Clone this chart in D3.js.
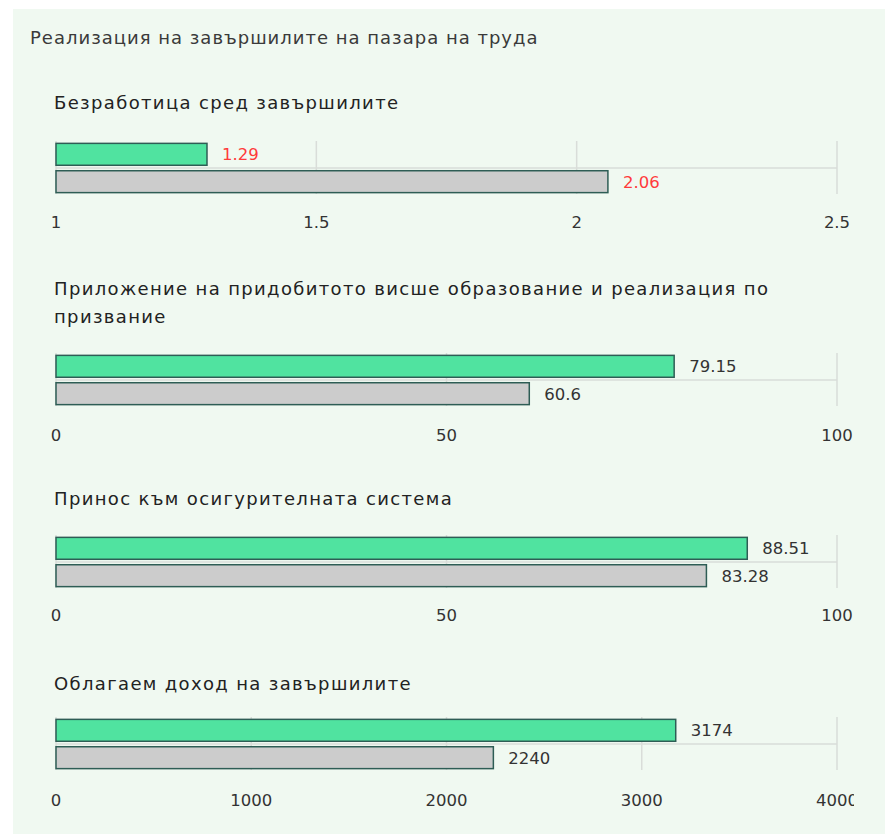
<!DOCTYPE html>
<html>
<head>
<meta charset="utf-8">
<script src="https://cdn.jsdelivr.net/npm/d3@7"></script>
<style>
  body { margin: 0; background: #fff; }
  svg { display: block; }
  text { font-family: "DejaVu Sans", sans-serif; }
</style>
</head>
<body>
<svg id="chart" width="885" height="834"></svg>
<script>
(function () {
    const W = 885, H = 834;
    const svg = d3.select("#chart");

    const mainTitle = "Реализация на завършилите на пазара на труда";
    const panelTitles = [
        ["Безработица сред завършилите"],
        ["Приложение на придобитото висше образование и реализация по", "призвание"],
        ["Принос към осигурителната система"],
        ["Облагаем доход на завършилите"]
    ];
    const seriesA = [1.29, 79.15, 88.51, 3174];   // green
    const seriesB = [2.06, 60.6, 83.28, 2240];    // grey
    const domains = [[1, 2.5], [0, 100], [0, 100], [0, 4000]];
    const tickVals = [
        [1, 1.5, 2, 2.5],
        [0, 50, 100],
        [0, 50, 100],
        [0, 1000, 2000, 3000, 4000]
    ];
    const labelColors = ["#ff3b3b", "#333", "#333", "#333"];

    // layout per panel: title baseline y, band top y, tick label y
    const layout = [
        { title: 109, band: 142, tick: 228 },
        { title: 295, band: 354, tick: 441 },
        { title: 505, band: 536, tick: 621 },
        { title: 690, band: 718, tick: 806 }
    ];

    const GREEN = "#50e3a0", GREY = "#cccccc", STROKE = "#2e5d55", GRID = "#d9ddd9";

    svg.append("rect").attr("x", 13).attr("y", 9)
        .attr("width", W - 13).attr("height", H - 9)
        .attr("fill", "#f0f9f1");

    // the original panel cuts off at its right edge
    svg.append("defs").append("clipPath").attr("id", "clip")
        .append("rect").attr("x", 0).attr("y", 0).attr("width", 854).attr("height", H);

    svg.append("text")
        .attr("x", 30).attr("y", 44)
        .attr("font-size", "18px").attr("letter-spacing", "1px").attr("fill", "#3a3a3a")
        .text(mainTitle);

    const x0 = 56, x1 = 837;

    panelTitles.forEach((lines, i) => {
        const L = layout[i];
        const g = svg.append("g").attr("clip-path", "url(#clip)");
        const x = d3.scaleLinear().domain(domains[i]).range([x0, x1]);
        const y = d3.scaleBand().domain(["a", "b"]).range([L.band, L.band + 52])
            .paddingInner(0.2).paddingOuter(0.05);

        const t = g.append("text").attr("font-size", "18px")
            .attr("letter-spacing", "1.35px").attr("fill", "#222");
        lines.forEach((ln, k) => {
            t.append("tspan").attr("x", x0 - 2)
                .attr("y", L.title + k * 28)
                .text(ln);
        });

        // grid
        g.selectAll("line.v").data(tickVals[i]).join("line")
            .attr("x1", d => x(d)).attr("x2", d => x(d))
            .attr("y1", L.band - 1).attr("y2", L.band + 52)
            .attr("stroke", GRID).attr("stroke-width", 1.5);
        g.append("line")
            .attr("x1", x0).attr("x2", x1)
            .attr("y1", L.band + 26).attr("y2", L.band + 26)
            .attr("stroke", GRID).attr("stroke-width", 1.5);

        // bars
        const rows = [{ k: "a", v: seriesA[i], fill: GREEN }, { k: "b", v: seriesB[i], fill: GREY }];
        g.selectAll("rect.bar").data(rows).join("rect")
            .attr("x", x(domains[i][0]))
            .attr("y", d => y(d.k))
            .attr("width", d => x(d.v) - x(domains[i][0]))
            .attr("height", y.bandwidth())
            .attr("fill", d => d.fill)
            .attr("stroke", STROKE).attr("stroke-width", 1.5);

        g.selectAll("text.val").data(rows).join("text")
            .attr("x", d => x(d.v) + 15)
            .attr("y", d => y(d.k) + y.bandwidth() / 2 + 6)
            .attr("font-size", "16.5px").attr("fill", labelColors[i])
            .text(d => d.v);

        // tick labels
        g.selectAll("text.tick").data(tickVals[i]).join("text")
            .attr("x", d => x(d)).attr("y", L.tick)
            .attr("text-anchor", "middle")
            .attr("font-size", "16.5px").attr("fill", "#333")
            .text(d => d);
    });
})();
</script>
</body>
</html>
